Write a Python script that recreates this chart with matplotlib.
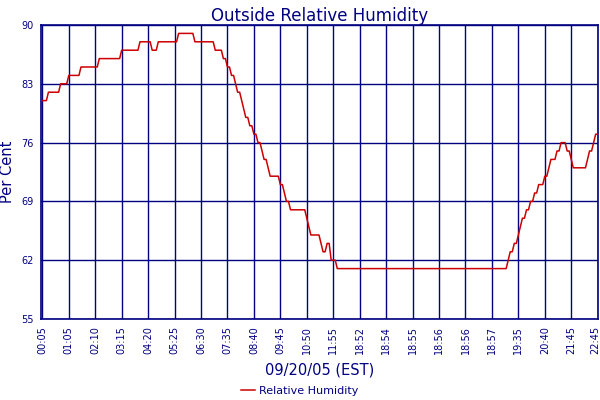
import numpy as np
import matplotlib
matplotlib.use("Agg")
import matplotlib.pyplot as plt
import matplotlib.transforms as mtransforms

# Run-length encoded humidity samples: value and index where each run starts
run_start = [0, 3, 9, 13, 19, 28, 39, 48, 54, 57, 67, 75, 85, 89, 91, 93, 95, 96, 98, 99,
             100, 102, 104, 106, 108, 109, 111, 112, 117, 119, 120, 122, 130, 131, 132,
             137, 138, 140, 142, 145, 229, 230, 232, 234, 235, 236, 238, 240, 242, 244,
             247, 249, 250, 253, 255, 258, 260, 261, 268, 269, 271, 272]
run_value = [81, 82, 83, 84, 85, 86, 87, 88, 87, 88, 89, 88, 87, 86, 85, 84, 83, 82, 81, 80,
             79, 78, 77, 76, 75, 74, 73, 72, 71, 70, 69, 68, 67, 66, 65,
             64, 63, 64, 62, 61, 62, 63, 64, 65, 66, 67, 68, 69, 70, 71,
             72, 73, 74, 75, 76, 75, 74, 73, 74, 75, 76, 77]
n_samples = 274

tick_labels = ["00:05", "01:05", "02:10", "03:15", "04:20", "05:25", "06:30", "07:35",
               "08:40", "09:45", "10:50", "11:55", "18:52", "18:54", "18:55", "18:56",
               "18:56", "18:57", "19:35", "20:40", "21:45", "22:45"]
tick_step = 13
y_ticks = [55, 62, 69, 76, 83, 90]

lengths = np.diff(run_start + [n_samples])
values = np.repeat(run_value, lengths)
idx = np.arange(n_samples)

navy = "#000080"
red = "#CC0000"

fig = plt.figure(figsize=(6, 4), dpi=100)
ax = fig.add_axes([40.5 / 600, 1 - 319 / 400, (598.3 - 40.5) / 600, (319 - 25) / 400])

ax.plot(idx, values, color=red, lw=1.1, label="Relative Humidity", zorder=3)

ax.set_xlim(-0.9, (n_samples - 1) + 0.3)
ax.set_ylim(55, 90)
ax.set_xticks(np.arange(len(tick_labels)) * tick_step)
ax.set_xticklabels(tick_labels, rotation=90, fontsize=7, color=navy)
ax.set_yticks(y_ticks)
ax.set_yticklabels([str(v) for v in y_ticks], fontsize=7, color=navy)
ax.tick_params(axis="both", length=0, pad=5)
ax.grid(True, color=navy, lw=1)
for s in ax.spines.values():
    s.set_color(navy)
    s.set_linewidth(1.2)

# keep the last label inside the canvas
last = ax.get_xticklabels()[-1]
last.set_transform(last.get_transform() + mtransforms.ScaledTranslation(-2.5 / 100, 0, fig.dpi_scale_trans))

ax.set_title("Outside Relative Humidity", color=navy, fontsize=12, pad=3)
ax.set_ylabel("Per Cent", color=navy, fontsize=10.5, labelpad=4)
ax.set_xlabel("09/20/05 (EST)", color=navy, fontsize=10.5, labelpad=6)

leg = fig.legend(loc="center", bbox_to_anchor=(0.5, 1 - 391 / 400), frameon=False,
                 fontsize=8, handlelength=1.2, handletextpad=0.4)
for t in leg.get_texts():
    t.set_color(navy)

fig.savefig("out.png", dpi=100)
